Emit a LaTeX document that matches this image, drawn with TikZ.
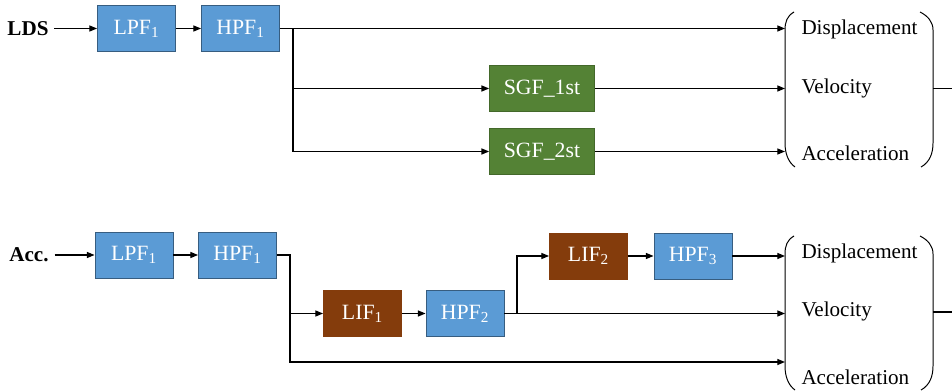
\documentclass[tikz,border=0pt]{standalone}
\usepackage{fontspec}
\setmainfont{Liberation Serif}
\usetikzlibrary{arrows.meta,positioning}

\definecolor{filtblue}{HTML}{5B9BD5}
\definecolor{filtgreen}{HTML}{548235}
\definecolor{filtbrown}{HTML}{843C0C}

\begin{document}
\begin{tikzpicture}[
        x=0.025cm, y=-0.025cm,
        font=\fontsize{15}{18}\selectfont,
        filt/.style={
            inner sep=0pt,
            line width=0.6pt,
            text=white,
            font=\fontsize{15.5}{18}\selectfont,
            minimum width=1.95cm,
            minimum height=1.15cm
        },
        hpfbox/.style={filt, draw=filtblue!60!black, fill=filtblue},
        sgfbox/.style={filt, draw=filtgreen!80!black, fill=filtgreen, minimum width=2.62cm},
        lifbox/.style={filt, draw=filtbrown, fill=filtbrown},
        inlabel/.style={font=\fontsize{15}{18}\selectfont\bfseries, inner sep=4pt},
        outlabel/.style={anchor=west, inner sep=3pt},
        arrow/.style={-{Triangle[length=5.5pt,width=4.3pt]}, line width=0.9pt},
        link/.style={line width=0.9pt},
        paren/.style={line width=0.7pt}
    ]
        \useasboundingbox (0,0) rectangle (952,392);

        % upper chain (LDS)
        \node[inlabel] (lds) at (28,28.5) {LDS};
        \node[hpfbox] (lpfA) at (136.5,28.5) {LPF\textsubscript{1}};
        \node[hpfbox] (hpfA) at (240.5,28.5) {HPF\textsubscript{1}};
        \node[sgfbox] (sgfA) at (542,88.5) {SGF\_1st};
        \node[sgfbox] (sgfB) at (542,151.5) {SGF\_2st};
        \coordinate (jA) at (293,28.5);

        \node[outlabel] (dispA) at (797,29) {Displacement};
        \node[outlabel] (veloA) at (797,88) {Velocity};
        \node[outlabel] (accA) at (797,153) {Acceleration};
        \coordinate (inDA) at (785,28.5);
        \coordinate (inVA) at (785,88.5);
        \coordinate (inAA) at (785,151.5);
        \coordinate (outA) at (933,88.5);
        \coordinate (endA) at (952,88.5);

        % lower chain (Acc.)
        \node[inlabel] (acc) at (29,255) {Acc.};
        \node[hpfbox] (lpfB) at (134,255) {LPF\textsubscript{1}};
        \node[hpfbox] (hpfB) at (237.5,255) {HPF\textsubscript{1}};
        \node[lifbox] (lifA) at (362.5,313.5) {LIF\textsubscript{1}};
        \node[hpfbox] (hpfC) at (465,313.5) {HPF\textsubscript{2}};
        \node[lifbox] (lifB) at (588.5,256) {LIF\textsubscript{2}};
        \node[hpfbox] (hpfD) at (693,256) {HPF\textsubscript{3}};
        \coordinate (jB) at (290,255);
        \coordinate (jC) at (517,313.5);

        \node[outlabel] (dispB) at (797,253) {Displacement};
        \node[outlabel] (veloB) at (797,311.5) {Velocity};
        \node[outlabel] (accB) at (797,377) {Acceleration};
        \coordinate (inDB) at (785,256);
        \coordinate (inVB) at (785,313.5);
        \coordinate (inAB) at (785,362);
        \coordinate (outB) at (933,312);
        \coordinate (endB) at (952,312);

        % connectors
        \foreach \source/\target in {lds/lpfA,lpfA/hpfA,acc/lpfB,lpfB/hpfB,lifA/hpfC,lifB/hpfD} {
            \draw[arrow] (\source) -- (\target);
        }
        \draw[arrow] (hpfA.east) -- (inDA);
        \draw[link] (jA) -- (jA |- sgfB);
        \draw[arrow] (jA) |- (sgfA.west);
        \draw[arrow] (jA) |- (sgfB.west);
        \draw[arrow] (sgfA.east) -- (inVA);
        \draw[arrow] (sgfB.east) -- (inAA);

        \draw[link] (hpfB.east) -- (jB) -- (jB |- inAB);
        \draw[arrow] (jB) |- (lifA.west);
        \draw[arrow] (jB) |- (inAB);
        \draw[arrow] (hpfC.east) -- (inVB);
        \draw[arrow] (jC) |- (lifB.west);
        \draw[arrow] (hpfD.east) -- (inDB);

        \draw[link] (outA) -- (endA);
        \draw[link] (outB) -- (endB);

        % output brackets
        \foreach \top/\bot in {12/167,236/390} {
            \draw[paren] (794,\top) .. controls (787,\top+4) and (785,\top+10) .. (785,\top+18)
                -- (785,\bot-24) .. controls (785,\bot-14) and (788,\bot-5) .. (795,\bot);
            \draw[paren] (920,\top) .. controls (928,\top+4) and (933,\top+10) .. (933,\top+18)
                -- (933,\bot-24) .. controls (933,\bot-14) and (930,\bot-5) .. (921,\bot);
        }
\end{tikzpicture}
\end{document}
